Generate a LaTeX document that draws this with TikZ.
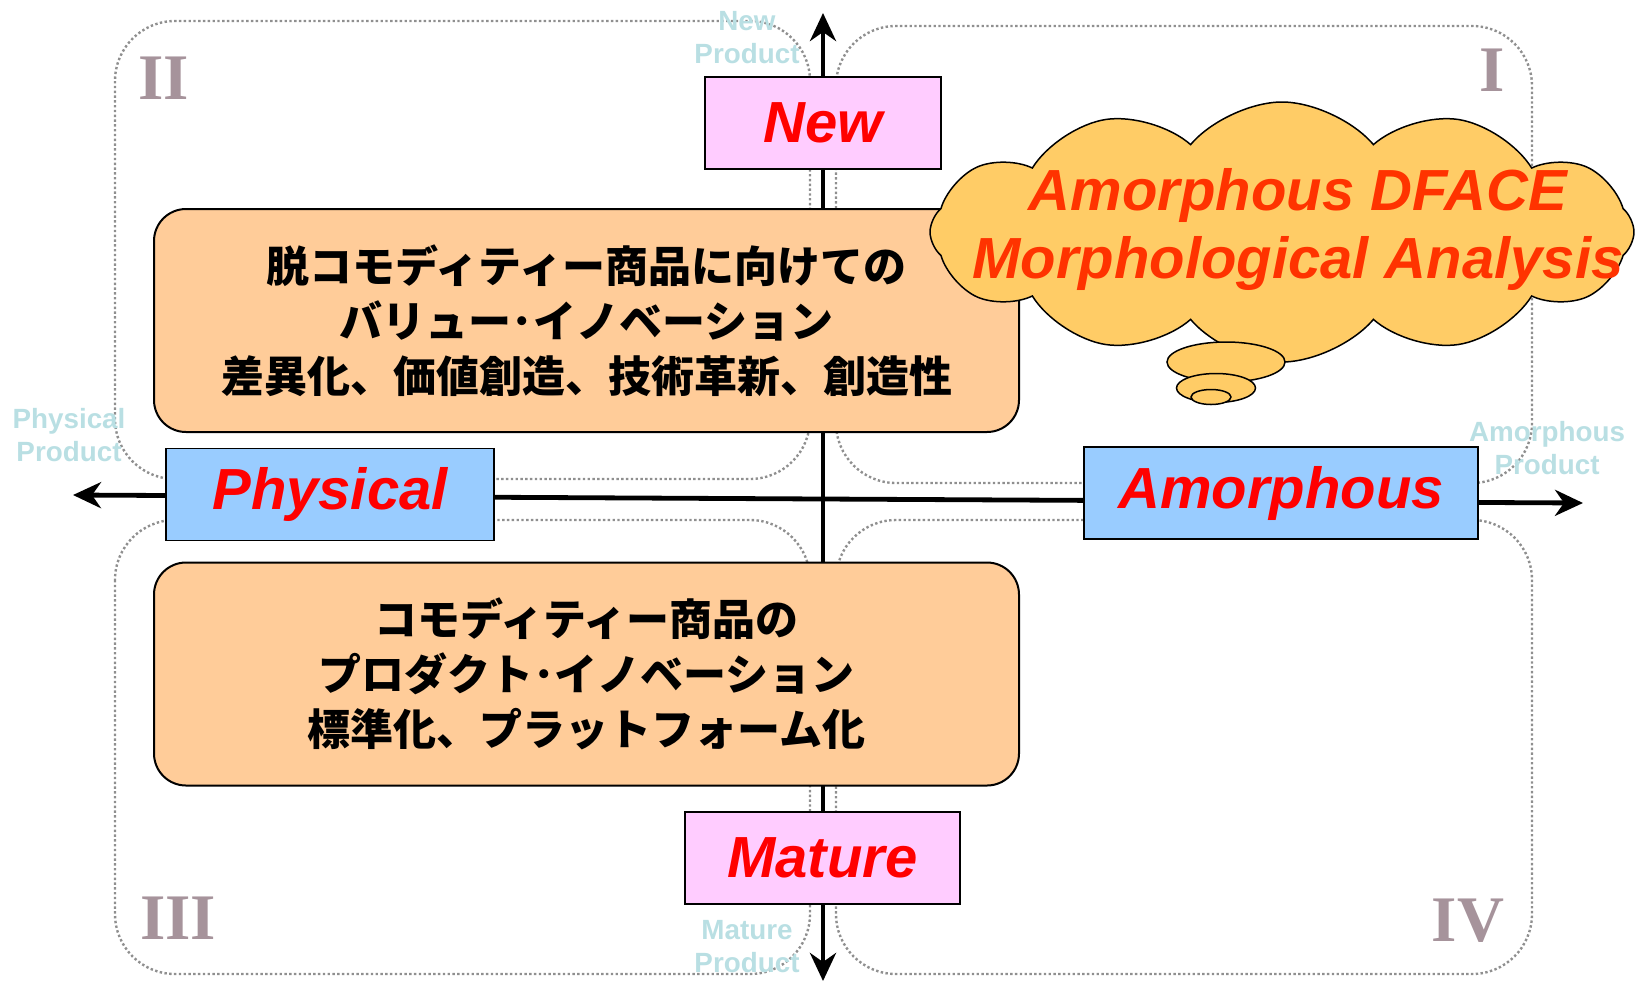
\documentclass[tikz,border=0pt]{standalone}
\usepackage{fontspec}
\setmainfont{Liberation Sans}
\newfontfamily\jpfont{Noto Sans CJK JP}
\newfontfamily\romanfont{Liberation Serif}
\usetikzlibrary{arrows.meta,shapes.geometric,shapes.symbols}
\definecolor{pinkfill}{HTML}{FFCCFF}
\definecolor{bluefill}{HTML}{99CCFF}
\definecolor{orangefill}{HTML}{FFCC99}
\definecolor{cloudfill}{HTML}{FFCC66}
\definecolor{cloudred}{HTML}{FF3300}
\definecolor{hintblue}{HTML}{B9DFE3}
\definecolor{numgray}{HTML}{A6939B}
\definecolor{dotgray}{HTML}{8F8F8F}
\begin{document}
\begin{tikzpicture}[x=0.5pt, y=-0.5pt,
    quadrant/.style={draw=dotgray, line width=1.2pt, dash pattern=on 1.2pt off 1.2pt, rounded corners=30pt},
    axis/.style={line width=2.4pt, -{Stealth[length=14pt, width=13pt, inset=4.5pt]}},
    tag/.style={draw, line width=0.75pt, minimum height=46pt, text=red, font=\bfseries\itshape\fontsize{29}{34}\selectfont},
    theme/.style={draw, fill=orangefill, line width=1pt, rounded corners=16pt, minimum width=432.5pt, minimum height=111.5pt, align=center, font=\jpfont\bfseries\fontsize{21.5}{27.5}\selectfont},
    hint/.style={text=hintblue, align=center, font=\bfseries\fontsize{13.9}{16.5}\selectfont},
    numeral/.style={text=numgray, font=\romanfont\bfseries\fontsize{32.5}{34}\selectfont},
    bubble/.style={ellipse, draw, fill=cloudfill, line width=0.75pt, inner sep=0pt}]
    \useasboundingbox (0,0) rectangle (1639,981);

    % Quadrants
    \draw[quadrant] (115,21) rectangle (810,479);
    \draw[quadrant] (836,26) rectangle (1532,483);
    \draw[quadrant] (115,520) rectangle (810,974);
    \draw[quadrant] (836,520) rectangle (1532,974);

    % Axes
    \coordinate (origin) at (823,499);
    \coordinate (north) at (823,13);
    \coordinate (south) at (823,981);
    \coordinate (west) at (73,495);
    \coordinate (east) at (1583,503);
    \draw[axis] (origin) -- (north);
    \draw[axis] (origin) -- (south);
    \draw[axis] (origin) -- (west);
    \draw[axis] (origin) -- (east);

    % Nodes
    \node (newhint) [hint] at (747,37.5) {New\\Product};
    \node (physicalhint) [hint] at (69,435.5) {Physical\\Product};
    \node (amorphoushint) [hint] at (1547,448.5) {Amorphous\\Product};
    \node (maturehint) [hint] at (747,946.5) {Mature\\Product};
    \node (one) [numeral] at (1492,70) {I};
    \node (two) [numeral] at (164,78) {II};
    \node (three) [numeral] at (178,918) {III};
    \node (four) [numeral] at (1468,921) {IV};
    \node (upper) [theme] at (586.5,320.5) {脱コモディティー商品に向けての\\バリュー･イノベーション\\差異化、価値創造、技術革新、創造性};
    \node (lower) [theme] at (586.5,674) {コモディティー商品の\\プロダクト･イノベーション\\標準化、プラットフォーム化};
    \node (new) [tag, fill=pinkfill, minimum width=118pt] at (823,123) {New};
    \node (mature) [tag, fill=pinkfill, minimum width=137.5pt] at (822.5,858) {Mature};
    \node (physical) [tag, fill=bluefill, minimum width=164pt] at (330,494.5) {Physical};
    \node (amorphous) [tag, fill=bluefill, minimum width=197pt] at (1281,493) {Amorphous};

    % Cloud
    \node (cloud) [cloud, cloud puffs=12, cloud puff arc=100, aspect=2.7, draw, fill=cloudfill, line width=0.75pt, minimum width=352pt, minimum height=130pt, inner sep=0pt] at (1282,232) {};
    \node (bubblea) [bubble, minimum width=59pt, minimum height=20pt] at (1226,362) {};
    \node (bubbleb) [bubble, minimum width=39.5pt, minimum height=14.5pt] at (1216,388) {};
    \node (bubblec) [bubble, minimum width=20pt, minimum height=7.5pt] at (1211,397) {};
    \node (cloudtext) [align=center, text=cloudred, font=\bfseries\itshape\fontsize{29}{34}\selectfont] at (1298,229) {Amorphous DFACE\\Morphological Analysis};
\end{tikzpicture}
\end{document}
